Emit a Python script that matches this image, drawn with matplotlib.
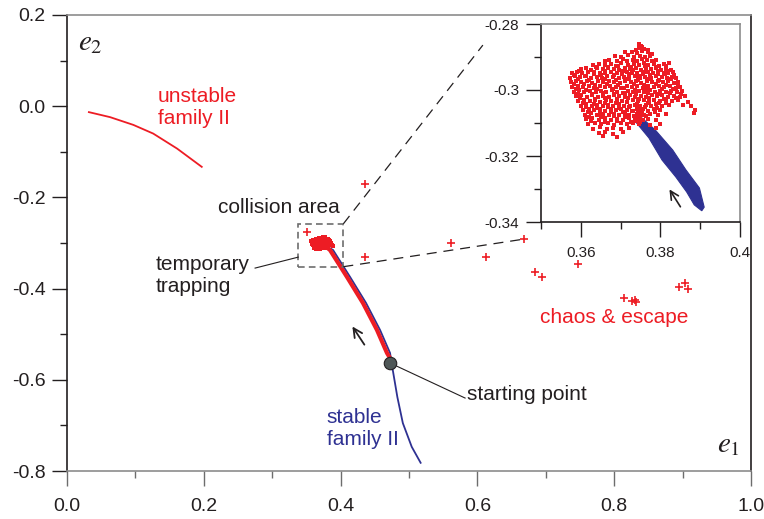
import matplotlib
matplotlib.use("Agg")
import matplotlib.pyplot as plt
from matplotlib.patches import Rectangle, Polygon
from matplotlib.ticker import MultipleLocator, FixedLocator, FormatStrFormatter

plt.rcParams['font.family'] = ['Liberation Sans', 'DejaVu Sans']
plt.rcParams['mathtext.fontset'] = 'stix'
plt.rcParams['axes.unicode_minus'] = False

RED = "#ed1c24"
BLUE = "#2e3192"
INK = "#231f20"
GREY = "#8c8c8c"

# unstable family II (upper left curve)
unstable_x = [0.032, 0.063, 0.097, 0.126, 0.161, 0.197]
unstable_y = [-0.013, -0.024, -0.041, -0.060, -0.093, -0.133]

# stable family II, from the collision area down past the starting point
stable_x = [0.377, 0.389, 0.4139, 0.4372, 0.4577, 0.4723, 0.4745, 0.477, 0.483, 0.491, 0.504, 0.517]
stable_y = [-0.305, -0.3154, -0.3746, -0.4316, -0.4908, -0.5412, -0.563, -0.585, -0.638, -0.695, -0.747, -0.782]

# red trajectory: starting point -> collision area
traj_x = [0.4722, 0.4678, 0.4532, 0.4327, 0.4094, 0.3845, 0.3760]
traj_y = [-0.5522, -0.5412, -0.4908, -0.4316, -0.3746, -0.3154, -0.3050]

start_x, start_y = 0.472, -0.563

# escaped orbits (red crosses)
chaos_x = [0.351, 0.436, 0.436, 0.561, 0.613, 0.668, 0.684, 0.695, 0.747,
           0.814, 0.826, 0.830, 0.832, 0.895, 0.904, 0.908]
chaos_y = [-0.276, -0.171, -0.331, -0.300, -0.331, -0.291, -0.364, -0.375, -0.346,
           -0.421, -0.427, -0.425, -0.429, -0.397, -0.388, -0.401]

# temporary trapping cloud
cloud = [
    (0.3747, -0.2862), (0.3752, -0.2866), (0.3755, -0.2870),
    (0.3738, -0.2878), (0.3746, -0.2874), (0.3760, -0.2876), (0.3768, -0.2879),
    (0.3712, -0.2886), (0.3728, -0.2884), (0.3741, -0.2889), (0.3755, -0.2883), (0.3770, -0.2886), (0.3778, -0.2890),
    (0.3686, -0.2897), (0.3700, -0.2900), (0.3718, -0.2895), (0.3733, -0.2899), (0.3748, -0.2896), (0.3761, -0.2901),
    (0.3773, -0.2897),
    (0.3661, -0.2912), (0.3672, -0.2908), (0.3690, -0.2911), (0.3705, -0.2907), (0.3716, -0.2913), (0.3730, -0.2909),
    (0.3742, -0.2912), (0.3755, -0.2906), (0.3766, -0.2910), (0.3779, -0.2913), (0.3790, -0.2908),
    (0.3630, -0.2925), (0.3645, -0.2920), (0.3660, -0.2924), (0.3676, -0.2921), (0.3688, -0.2926), (0.3702, -0.2919),
    (0.3719, -0.2923), (0.3733, -0.2921), (0.3746, -0.2925), (0.3758, -0.2919), (0.3770, -0.2924), (0.3783, -0.2921),
    (0.3797, -0.2926), (0.3810, -0.2920), (0.3822, -0.2918),
    (0.3600, -0.2936), (0.3612, -0.2933), (0.3625, -0.2938), (0.3641, -0.2934), (0.3655, -0.2937), (0.3668, -0.2932),
    (0.3683, -0.2936), (0.3697, -0.2939), (0.3711, -0.2934), (0.3724, -0.2937), (0.3738, -0.2932), (0.3751, -0.2938),
    (0.3765, -0.2934), (0.3777, -0.2937), (0.3789, -0.2933), (0.3801, -0.2938), (0.3814, -0.2935), (0.3826, -0.2939),
    (0.3578, -0.2950), (0.3590, -0.2946), (0.3604, -0.2949), (0.3618, -0.2945), (0.3633, -0.2951), (0.3647, -0.2947),
    (0.3661, -0.2950), (0.3676, -0.2945), (0.3690, -0.2949), (0.3703, -0.2952), (0.3716, -0.2946), (0.3729, -0.2950),
    (0.3742, -0.2947), (0.3756, -0.2951), (0.3769, -0.2946), (0.3782, -0.2949), (0.3795, -0.2952), (0.3808, -0.2947),
    (0.3820, -0.2950), (0.3831, -0.2946),
    (0.3573, -0.2963), (0.3586, -0.2959), (0.3598, -0.2962), (0.3612, -0.2958), (0.3626, -0.2964), (0.3640, -0.2960),
    (0.3654, -0.2963), (0.3667, -0.2958), (0.3681, -0.2962), (0.3695, -0.2965), (0.3709, -0.2960), (0.3722, -0.2963),
    (0.3735, -0.2959), (0.3749, -0.2964), (0.3762, -0.2960), (0.3776, -0.2963), (0.3789, -0.2958), (0.3803, -0.2962),
    (0.3816, -0.2965), (0.3829, -0.2960), (0.3840, -0.2963),
    (0.3575, -0.2976), (0.3589, -0.2972), (0.3601, -0.2977), (0.3615, -0.2973), (0.3628, -0.2978), (0.3643, -0.2974),
    (0.3657, -0.2977), (0.3671, -0.2972), (0.3684, -0.2976), (0.3698, -0.2979), (0.3712, -0.2973), (0.3725, -0.2977),
    (0.3739, -0.2974), (0.3752, -0.2978), (0.3766, -0.2972), (0.3779, -0.2976), (0.3793, -0.2973), (0.3806, -0.2977),
    (0.3820, -0.2974), (0.3833, -0.2978), (0.3845, -0.2975),
    (0.3578, -0.2991), (0.3592, -0.2987), (0.3606, -0.2992), (0.3620, -0.2988), (0.3633, -0.2993), (0.3647, -0.2989),
    (0.3661, -0.2992), (0.3674, -0.2987), (0.3688, -0.2991), (0.3701, -0.2994), (0.3715, -0.2988), (0.3728, -0.2992),
    (0.3742, -0.2989), (0.3756, -0.2993), (0.3769, -0.2987), (0.3783, -0.2991), (0.3796, -0.2988), (0.3810, -0.2992),
    (0.3824, -0.2989), (0.3838, -0.2993), (0.3850, -0.2990),
    (0.3582, -0.3005), (0.3596, -0.3001), (0.3609, -0.3006), (0.3623, -0.3002), (0.3637, -0.3007), (0.3650, -0.3003),
    (0.3664, -0.3006), (0.3678, -0.3001), (0.3691, -0.3005), (0.3705, -0.3008), (0.3718, -0.3002), (0.3732, -0.3006),
    (0.3745, -0.3003), (0.3759, -0.3007), (0.3773, -0.3001), (0.3786, -0.3005), (0.3800, -0.3002), (0.3813, -0.3006),
    (0.3827, -0.3003), (0.3841, -0.3007), (0.3855, -0.3004),
    (0.3588, -0.3019), (0.3601, -0.3015), (0.3615, -0.3020), (0.3629, -0.3016), (0.3642, -0.3021), (0.3656, -0.3017),
    (0.3670, -0.3020), (0.3683, -0.3015), (0.3697, -0.3019), (0.3710, -0.3022), (0.3724, -0.3016), (0.3737, -0.3020),
    (0.3751, -0.3017), (0.3765, -0.3021), (0.3778, -0.3015), (0.3792, -0.3019), (0.3805, -0.3016), (0.3819, -0.3020),
    (0.3833, -0.3017), (0.3848, -0.3021), (0.3862, -0.3018),
    (0.3594, -0.3033), (0.3608, -0.3029), (0.3622, -0.3034), (0.3636, -0.3030), (0.3649, -0.3035), (0.3663, -0.3031),
    (0.3677, -0.3034), (0.3690, -0.3029), (0.3704, -0.3033), (0.3717, -0.3036), (0.3731, -0.3030), (0.3744, -0.3034),
    (0.3758, -0.3031), (0.3772, -0.3035), (0.3785, -0.3029), (0.3799, -0.3033), (0.3813, -0.3030), (0.3828, -0.3034),
    (0.3845, -0.3031), (0.3870, -0.3035),
    (0.3600, -0.3047), (0.3614, -0.3043), (0.3628, -0.3048), (0.3641, -0.3044), (0.3655, -0.3049), (0.3669, -0.3045),
    (0.3682, -0.3048), (0.3696, -0.3043), (0.3709, -0.3047), (0.3723, -0.3050), (0.3736, -0.3044), (0.3750, -0.3048),
    (0.3763, -0.3045), (0.3777, -0.3049), (0.3790, -0.3043), (0.3805, -0.3047), (0.3822, -0.3045), (0.3858, -0.3044),
    (0.3876, -0.3048),
    (0.3606, -0.3061), (0.3620, -0.3057), (0.3634, -0.3062), (0.3648, -0.3058), (0.3661, -0.3063), (0.3675, -0.3059),
    (0.3689, -0.3062), (0.3702, -0.3057), (0.3716, -0.3061), (0.3729, -0.3064), (0.3740, -0.3058), (0.3748, -0.3062),
    (0.3756, -0.3059), (0.3770, -0.3063), (0.3784, -0.3057), (0.3800, -0.3061), (0.3886, -0.3060), (0.3884, -0.3070),
    (0.3611, -0.3075), (0.3625, -0.3071), (0.3640, -0.3076), (0.3655, -0.3072), (0.3670, -0.3077), (0.3684, -0.3073),
    (0.3697, -0.3076), (0.3710, -0.3071), (0.3722, -0.3075), (0.3733, -0.3078), (0.3740, -0.3072), (0.3746, -0.3076),
    (0.3752, -0.3073), (0.3760, -0.3077), (0.3775, -0.3072), (0.3795, -0.3076), (0.3815, -0.3074),
    (0.3613, -0.3089), (0.3628, -0.3085), (0.3645, -0.3090), (0.3660, -0.3086), (0.3676, -0.3091), (0.3690, -0.3087),
    (0.3705, -0.3090), (0.3720, -0.3085), (0.3735, -0.3089), (0.3742, -0.3092), (0.3749, -0.3086), (0.3757, -0.3090),
    (0.3770, -0.3087), (0.3790, -0.3091),
    (0.3618, -0.3103), (0.3635, -0.3099), (0.3652, -0.3104), (0.3668, -0.3100), (0.3684, -0.3105), (0.3700, -0.3101),
    (0.3716, -0.3104), (0.3732, -0.3099), (0.3745, -0.3103), (0.3775, -0.3106), (0.3800, -0.3102),
    (0.3630, -0.3117), (0.3648, -0.3113), (0.3665, -0.3118), (0.3682, -0.3114), (0.3700, -0.3119), (0.3720, -0.3115),
    (0.3790, -0.3116),
    (0.3645, -0.3131), (0.3660, -0.3127), (0.3680, -0.3132), (0.3705, -0.3128),
    (0.3655, -0.3140), (0.3690, -0.3142),
]

# denser core of the cloud, between the rows above
cloud_core = [
    (0.3637, -0.2929), (0.3668, -0.2931), (0.3694, -0.2927), (0.3727, -0.2930), (0.3762, -0.2928),
    (0.3790, -0.2931), (0.3815, -0.2928),
    (0.3596, -0.2942), (0.3633, -0.2944), (0.3662, -0.2941), (0.3705, -0.2943), (0.3731, -0.2940),
    (0.3759, -0.2944), (0.3793, -0.2941), (0.3820, -0.2943),
    (0.3582, -0.2955), (0.3611, -0.2957), (0.3652, -0.2954), (0.3683, -0.2956), (0.3721, -0.2953),
    (0.3747, -0.2957), (0.3775, -0.2955), (0.3812, -0.2953), (0.3835, -0.2956),
    (0.3593, -0.2968), (0.3620, -0.2970), (0.3661, -0.2967), (0.3689, -0.2969), (0.3716, -0.2966),
    (0.3744, -0.2970), (0.3770, -0.2967), (0.3797, -0.2969), (0.3826, -0.2966),
    (0.3583, -0.2983), (0.3608, -0.2981), (0.3636, -0.2984), (0.3667, -0.2982), (0.3693, -0.2985),
    (0.3734, -0.2981), (0.3760, -0.2984), (0.3788, -0.2982), (0.3815, -0.2985), (0.3843, -0.2982),
    (0.3587, -0.2997), (0.3614, -0.2999), (0.3641, -0.2996), (0.3681, -0.2998), (0.3708, -0.2995),
    (0.3737, -0.2999), (0.3764, -0.2996), (0.3803, -0.2998), (0.3832, -0.2996),
    (0.3592, -0.3011), (0.3629, -0.3013), (0.3657, -0.3010), (0.3684, -0.3012), (0.3712, -0.3009),
    (0.3739, -0.3013), (0.3768, -0.3010), (0.3796, -0.3012), (0.3824, -0.3010), (0.3851, -0.3013),
    (0.3599, -0.3025), (0.3635, -0.3027), (0.3662, -0.3024), (0.3690, -0.3026), (0.3719, -0.3023),
    (0.3745, -0.3027), (0.3771, -0.3024), (0.3810, -0.3026), (0.3838, -0.3024),
    (0.3605, -0.3039), (0.3633, -0.3041), (0.3660, -0.3038), (0.3688, -0.3040), (0.3716, -0.3037),
    (0.3741, -0.3041), (0.3768, -0.3038), (0.3797, -0.3040), (0.3815, -0.3038),
    (0.3612, -0.3053), (0.3641, -0.3055), (0.3668, -0.3052), (0.3695, -0.3054), (0.3722, -0.3051),
    (0.3743, -0.3055), (0.3762, -0.3052), (0.3792, -0.3054),
    (0.3618, -0.3067), (0.3647, -0.3069), (0.3677, -0.3066), (0.3705, -0.3068), (0.3731, -0.3065),
    (0.3743, -0.3069), (0.3755, -0.3066), (0.3787, -0.3068),
    (0.3620, -0.3081), (0.3652, -0.3083), (0.3683, -0.3080), (0.3712, -0.3082), (0.3738, -0.3079),
    (0.3745, -0.3083), (0.3764, -0.3080),
    (0.3626, -0.3095), (0.3660, -0.3097), (0.3692, -0.3094), (0.3725, -0.3096), (0.3741, -0.3094),
    (0.3750, -0.3097),
]
cloud_x = [p[0] for p in cloud + cloud_core]
cloud_y = [p[1] for p in cloud + cloud_core]

# blue band in the zoomed panel (outline)
band_outline = [
    (0.3734, -0.3091), (0.3771, -0.3145), (0.3804, -0.3212), (0.3839, -0.3264),
    (0.3866, -0.3309), (0.3885, -0.3348), (0.3904, -0.3366),
    (0.3910, -0.3355), (0.3898, -0.3297), (0.3864, -0.3242), (0.3831, -0.3182),
    (0.3787, -0.3121), (0.3752, -0.3083),
]

fig = plt.figure(figsize=(7.64, 5.19), dpi=100)
ax = fig.add_axes([67 / 764, 48 / 519, 684 / 764, 456 / 519])

ax.plot(unstable_x, unstable_y, color=RED, lw=1.3, zorder=3)
ax.plot(stable_x, stable_y, color=BLUE, lw=1.3, zorder=2)
ax.plot(traj_x, traj_y, color=RED, lw=3.0, solid_capstyle='butt', zorder=3)
ax.plot(cloud_x, cloud_y, 's', color=RED, ms=3.4, mew=0, zorder=3)
ax.plot(chaos_x, chaos_y, '+', color=RED, ms=6, mew=1.2, zorder=4)
ax.plot([start_x, 0.582], [start_y, -0.640], color=INK, lw=0.8, zorder=4)
ax.plot(start_x, start_y, 'o', ms=9, mfc='#4f5757', mec=INK, mew=0.8, zorder=5)

# collision area box and links to the zoom
ax.add_patch(Rectangle((0.337, -0.353), 0.066, 0.095, fill=False, ec='#6d6d6d',
                       lw=1.2, ls=(0, (4, 2.5)), zorder=4))
ax.plot([0.404, 0.608], [-0.258, 0.134], color=INK, lw=0.9, ls=(0, (8, 5.5)), zorder=4)
ax.plot([0.404, 0.670], [-0.352, -0.291], color=INK, lw=0.9, ls=(0, (8, 5.5)), zorder=4)
ax.plot([0.275, 0.338], [-0.355, -0.331], color=INK, lw=0.8, zorder=4)

ax.annotate('', xy=(0.415, -0.478), xytext=(0.437, -0.528),
            arrowprops=dict(arrowstyle='->', color=INK, lw=1.3, mutation_scale=16))

ax.text(0.133, 0.043, 'unstable\nfamily II', color=RED, fontsize=15, va='top', ha='left', linespacing=1.22)
ax.text(0.380, -0.662, 'stable\nfamily II', color=BLUE, fontsize=15, va='top', ha='left', linespacing=1.22)
ax.text(0.221, -0.234, 'collision area', color=INK, fontsize=15)
ax.text(0.129, -0.326, 'temporary\ntrapping', color=INK, fontsize=15, va='top', linespacing=1.22)
ax.text(0.6915, -0.4754, 'chaos & escape', color=RED, fontsize=15)
ax.text(0.585, -0.644, 'starting point', color=INK, fontsize=15)
ax.text(0.016, 0.123, r'$e_2$', color=INK, fontsize=21)
ax.text(0.950, -0.758, r'$e_1$', color=INK, fontsize=21)

ax.set_xlim(0, 1)
ax.set_ylim(-0.8, 0.2)
ax.xaxis.set_major_locator(MultipleLocator(0.2))
ax.xaxis.set_minor_locator(MultipleLocator(0.1))
ax.yaxis.set_major_locator(MultipleLocator(0.2))
ax.yaxis.set_minor_locator(MultipleLocator(0.1))
ax.xaxis.set_major_formatter(FormatStrFormatter('%.1f'))
ax.yaxis.set_major_formatter(FormatStrFormatter('%.1f'))
ax.tick_params(which='major', length=10.5, width=1.0, labelsize=14, labelcolor=INK)
ax.tick_params(which='minor', length=5, width=1.0)
ax.tick_params(axis='x', which='both', color='#6d6d6d')
ax.tick_params(axis='x', which='major', pad=9)
ax.tick_params(axis='y', which='both', color=INK)
ax.tick_params(axis='y', which='major', pad=5)
for side, col in [('top', GREY), ('bottom', GREY), ('left', INK), ('right', INK)]:
    ax.spines[side].set_color(col)
    ax.spines[side].set_linewidth(1.2)

# zoomed panel
ins = fig.add_axes([541 / 764, 297 / 519, 199 / 764, 198 / 519], zorder=5)
ins.add_patch(Polygon(band_outline, closed=True, fc=BLUE, ec=BLUE, lw=0.8, zorder=2))
ins.plot(cloud_x, cloud_y, 's', color=RED, ms=2.2, mew=0, zorder=3)
ins.annotate('', xy=(0.3819, -0.3294), xytext=(0.3854, -0.3361),
             arrowprops=dict(arrowstyle='->', color=INK, lw=1.2, mutation_scale=15))
ins.set_xlim(0.35, 0.40)
ins.set_ylim(-0.34, -0.28)
ins.xaxis.set_major_locator(FixedLocator([0.36, 0.38, 0.40]))
ins.xaxis.set_minor_locator(FixedLocator([0.35, 0.37, 0.39]))
ins.yaxis.set_major_locator(FixedLocator([-0.34, -0.32, -0.30, -0.28]))
ins.yaxis.set_minor_locator(FixedLocator([-0.33, -0.31, -0.29]))
ins.xaxis.set_major_formatter(FormatStrFormatter('%g'))
ins.yaxis.set_major_formatter(FormatStrFormatter('%g'))
ins.tick_params(which='major', length=10.5, width=1.0, labelsize=11, labelcolor=INK, color=INK)
ins.tick_params(which='minor', length=5, width=1.0, color=INK)
ins.tick_params(axis='x', which='major', pad=7)
ins.tick_params(axis='y', which='major', pad=5)
for side, col in [('top', GREY), ('right', GREY), ('left', INK), ('bottom', INK)]:
    ins.spines[side].set_color(col)
    ins.spines[side].set_linewidth(1.2)

fig.savefig('out.png', dpi=100)
